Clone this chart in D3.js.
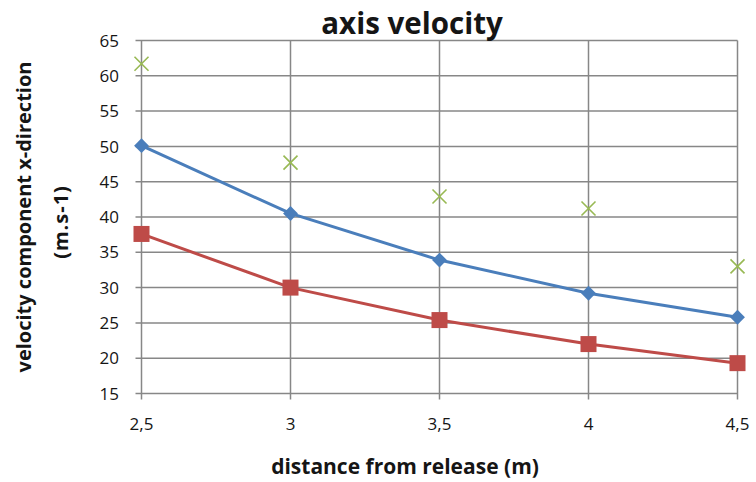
<!DOCTYPE html>
<html>
<head>
<meta charset="utf-8">
<script src="https://cdn.jsdelivr.net/npm/d3@7"></script>
<style>
  html, body { margin: 0; padding: 0; background: #fff; }
  svg { display: block; }
  text { font-family: "Open Sans", Lato, sans-serif; fill: #151515; }
</style>
</head>
<body>
<svg id="chart" width="756" height="482"></svg>
<script>
// distance from release (m)
const distances = [2.5, 3, 3.5, 4, 4.5];
const xTickLabels = ["2,5", "3", "3,5", "4", "4,5"];
// velocity series (m/s)
const seriesBlue = [50.1, 40.5, 33.9, 29.2, 25.8];
const seriesRed = [37.6, 30.0, 25.4, 22.0, 19.3];
const seriesGreen = [61.7, 47.7, 42.9, 41.2, 33.0];
const yTicks = [15, 20, 25, 30, 35, 40, 45, 50, 55, 60, 65];

const svg = d3.select("#chart");
const margin = { left: 141.5, right: 18.5, top: 40.5, bottom: 88.5 };
const W = 756, H = 482;

const x = d3.scaleLinear().domain([2.5, 4.5]).range([margin.left, W - margin.right]);
const y = d3.scaleLinear().domain([15, 65]).range([H - margin.bottom, margin.top]);

const gridColor = "#878787";

// horizontal gridlines
svg.append("g").selectAll("line").data(yTicks).join("line")
  .attr("x1", margin.left - 6).attr("x2", W - margin.right)
  .attr("y1", d => y(d)).attr("y2", d => y(d))
  .attr("stroke", gridColor).attr("stroke-width", 1.5);

// vertical gridlines (extend below the axis as tick marks)
svg.append("g").selectAll("line").data(distances).join("line")
  .attr("x1", d => x(d)).attr("x2", d => x(d))
  .attr("y1", margin.top).attr("y2", H - margin.bottom + 6)
  .attr("stroke", gridColor).attr("stroke-width", 1.5);

// y tick labels
svg.append("g").selectAll("text").data(yTicks).join("text")
  .attr("x", 119).attr("y", d => y(d)).attr("dy", "0.36em")
  .attr("text-anchor", "end").attr("font-size", 17)
  .text(d => d);

// x tick labels
svg.append("g").selectAll("text").data(distances).join("text")
  .attr("x", d => x(d)).attr("y", 424).attr("dy", "0.36em")
  .attr("text-anchor", "middle").attr("font-size", 17)
  .text((d, i) => xTickLabels[i]);

// titles
svg.append("text").attr("x", 412).attr("y", 34)
  .attr("text-anchor", "middle").attr("font-size", 29.5).attr("font-weight", "bold")
  .text("axis velocity");

svg.append("text").attr("x", 405).attr("y", 474)
  .attr("text-anchor", "middle").attr("font-size", 21).attr("font-weight", "bold")
  .text("distance from release (m)");

svg.append("text").attr("transform", "translate(31,217) rotate(-90)")
  .attr("text-anchor", "middle").attr("font-size", 20).attr("font-weight", "bold")
  .text("velocity component  x-direction");
svg.append("text").attr("transform", "translate(68,222) rotate(-90)")
  .attr("text-anchor", "middle").attr("font-size", 20).attr("font-weight", "bold")
  .attr("letter-spacing", 1)
  .text("(m.s-1)");

const line = d3.line().x((d, i) => x(distances[i])).y(d => y(d));

// blue series with diamond markers
svg.append("path").datum(seriesBlue).attr("d", line)
  .attr("fill", "none").attr("stroke", "#4a7ebb").attr("stroke-width", 3);
svg.append("g").selectAll("path").data(seriesBlue).join("path")
  .attr("transform", (d, i) => `translate(${x(distances[i])},${y(d)})`)
  .attr("d", d3.symbol(d3.symbolDiamond2, 140)())
  .attr("fill", "#4a7ebb");

// red series with square markers
svg.append("path").datum(seriesRed).attr("d", line)
  .attr("fill", "none").attr("stroke", "#be4b48").attr("stroke-width", 3);
svg.append("g").selectAll("rect").data(seriesRed).join("rect")
  .attr("x", (d, i) => x(distances[i]) - 8).attr("y", d => y(d) - 8)
  .attr("width", 16).attr("height", 16)
  .attr("fill", "#be4b48");

// green series: markers only
svg.append("g").selectAll("path").data(seriesGreen).join("path")
  .attr("transform", (d, i) => `translate(${x(distances[i])},${y(d)})`)
  .attr("d", d3.symbol(d3.symbolX, 130)())
  .attr("fill", "none").attr("stroke", "#98b954").attr("stroke-width", 1.6);
</script>
</body>
</html>
